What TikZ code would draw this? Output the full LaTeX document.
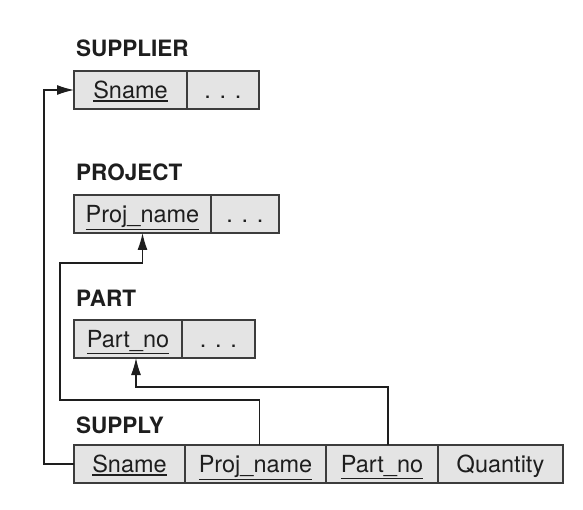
\documentclass[tikz,border=0pt]{standalone}
\usepackage{fontspec}
\setmainfont{TeX Gyre Heros}
\usepackage{xcolor}
\usepackage{tikz}
\usetikzlibrary{arrows.meta,positioning}
\definecolor{cellfill}{RGB}{228,228,228}
\definecolor{cellline}{RGB}{60,60,60}
\definecolor{ink}{RGB}{30,30,30}
\newcommand{\key}[1]{\setbox0=\hbox{#1}\leavevmode
  \rlap{\rule[\dimexpr-\dp0-3pt\relax]{\wd0}{1.3pt}}\box0}

\begin{document}
\begin{tikzpicture}[x=1pt,y=-1pt,
  node distance=0pt,
  cell/.style={draw=cellline,fill=cellfill,line width=1.2pt,inner sep=0pt,
               outer sep=0pt,minimum height=38pt,text height=16.5pt,text depth=0pt,
               text=ink,font=\fontsize{23.5}{28}\selectfont},
  title/.style={anchor=base west,inner sep=0pt,text=ink,
                font=\fontsize{22.5}{27}\selectfont\bfseries},
  arr/.style={draw=ink,line width=1.2pt,-{Latex[length=17pt,width=10pt]}}]
  \useasboundingbox (0,0) rectangle (583,510);

  \node[cell,minimum width=113pt,anchor=north west] (s1) at (74,71) {\key{Sname}};
  \node[cell,minimum width=72pt,right=of s1] (s2) {. . .};
  \node[title] (supplier) at (76,57) {SUPPLIER};

  \node[cell,minimum width=137pt,anchor=north west] (p1) at (74,195) {\key{Proj\_name}};
  \node[cell,minimum width=68pt,right=of p1] (p2) {. . .};
  \node[title] (project) at (76,181) {PROJECT};

  \node[cell,minimum width=108pt,anchor=north west] (pt1) at (74,320) {\key{Part\_no}};
  \node[cell,minimum width=73pt,right=of pt1] (pt2) {. . .};
  \node[title] (part) at (76,307) {PART};

  \node[cell,minimum width=111pt,anchor=north west] (sy1) at (74,445) {\key{Sname}};
  \node[cell,minimum width=141pt,right=of sy1] (sy2) {\key{Proj\_name}};
  \node[cell,minimum width=112pt,right=of sy2] (sy3) {\key{Part\_no}};
  \node[cell,minimum width=125pt,right=of sy3] (sy4) {Quantity};
  \node[title] (supply) at (76,433) {SUPPLY};

  \draw[arr] (sy1.west) -- ++(-30,0) |- (s1.west);
  \draw[arr] ([xshift=4pt]sy2.north) |- (60,400) -- (60,263) -| (p1.south);
  \draw[arr] ([xshift=6pt]sy3.north) |- (136,387) -- ([xshift=8pt]pt1.south);
\end{tikzpicture}
\end{document}
